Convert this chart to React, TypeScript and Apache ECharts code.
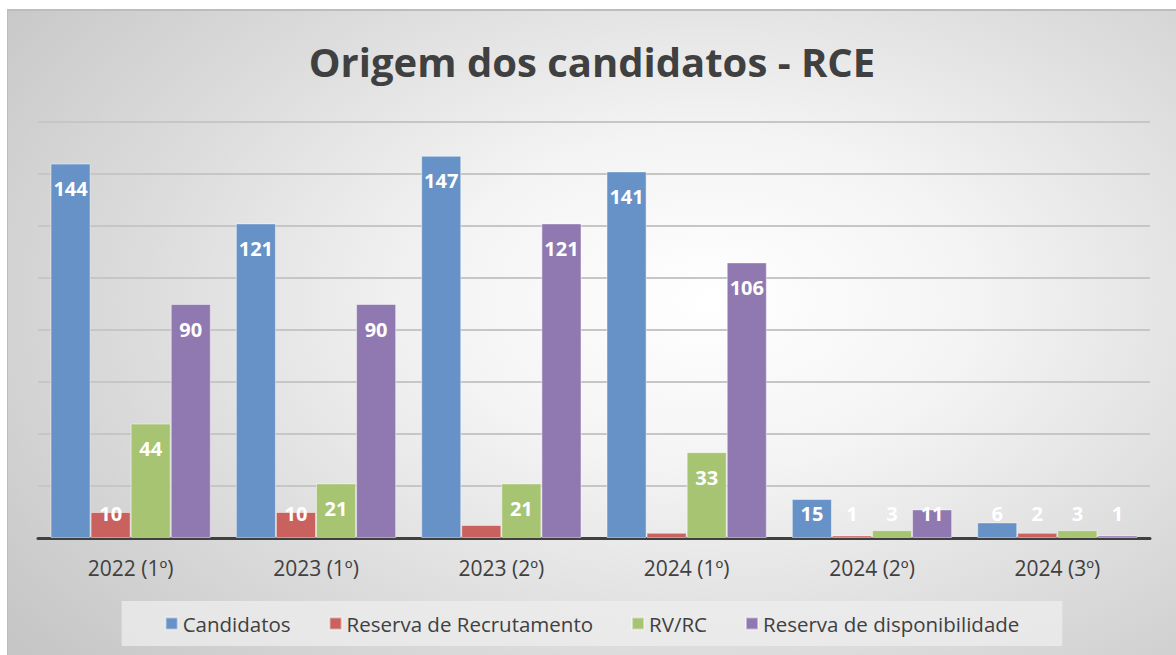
import React, { useEffect, useRef } from "react";
import * as echarts from "echarts";

const categories = ["2022 (1º)", "2023 (1º)", "2023 (2º)", "2024 (1º)", "2024 (2º)", "2024 (3º)"];
const seriesNames = ["Candidatos", "Reserva de Recrutamento", "RV/RC", "Reserva de disponibilidade"];
const candidatos = [144, 121, 147, 141, 15, 6];
const reservaRecrutamento = [10, 10, 5, 2, 1, 2];
const rvrc = [44, 21, 21, 33, 3, 3];
const reservaDisponibilidade = [90, 90, 121, 106, 11, 1];
// labels not shown in the reference (series index, category index)
const hiddenLabels: [number, number][] = [[1, 2], [1, 3]];
const colors = ["#6692c7", "#c9625e", "#a7c473", "#9079b0"];
const yMax = 160;
const yInterval = 20;

export default function App() {
  const ref = useRef<HTMLDivElement>(null);
  useEffect(() => {
    if (!ref.current) return;
    const chart = echarts.init(ref.current, null, { renderer: "svg" });
    const allValues = [candidatos, reservaRecrutamento, rvrc, reservaDisponibilidade];
    const font = "'Open Sans', 'Noto Sans', sans-serif";
    const series = allValues.map((vals, si) => ({
      name: seriesNames[si],
      type: "bar",
      barGap: "0%",
      barCategoryGap: "13.5%",
      itemStyle: { color: colors[si], borderColor: "rgba(255,255,255,0.45)", borderWidth: 1 },
      data: vals.map((v, ci) => {
        const hidden = hiddenLabels.some(([s, c]) => s === si && c === ci);
        const small = v < 21;
        return {
          value: v,
          label: {
            show: !hidden,
            position: small ? "insideBottom" : "insideTop",
            distance: small ? 15 : 15,
          },
        };
      }),
      label: {
        show: true,
        color: "#ffffff",
        fontFamily: font,
        fontWeight: "bold",
        fontSize: 20,
      },
    }));
    chart.setOption({
      animation: false,
      backgroundColor: "transparent",
      title: {
        text: "Origem dos candidatos - RCE",
        left: "center",
        top: 25,
        textStyle: { fontFamily: font, fontWeight: "bold", fontSize: 40, color: "#404040" },
      },
      color: colors,
      legend: {
        data: seriesNames,
        bottom: 9,
        left: "center",
        itemWidth: 12,
        itemHeight: 12,
        itemGap: 38,
        icon: "rect",
        padding: [12, 43],
        backgroundColor: "rgba(238,238,238,0.75)",
        textStyle: { fontFamily: font, fontSize: 20.5, color: "#404040" },
      },
      grid: { left: 30, right: 26, top: 111, bottom: 117, containLabel: false },
      xAxis: {
        type: "category",
        data: categories,
        axisLine: { show: true, lineStyle: { color: "#404040", width: 3 } },
        axisTick: { show: false },
        axisLabel: { fontFamily: font, fontSize: 21, color: "#404040", margin: 19 },
      },
      yAxis: {
        type: "value",
        min: 0,
        max: yMax,
        interval: yInterval,
        axisLabel: { show: false },
        axisLine: { show: false },
        axisTick: { show: false },
        splitLine: { lineStyle: { color: "#c6c6c6", width: 2 } },
      },
      series,
    });
    return () => chart.dispose();
  }, []);
  return (
    <div
      style={{
        position: "absolute",
        left: 7,
        top: 9,
        width: 1169,
        height: 646,
        boxSizing: "border-box",
        borderTop: "2px solid #bdbdbd",
        borderLeft: "1px solid #bdbdbd",
        background:
          "radial-gradient(ellipse 75% 85% at 60% 45%, #ffffff 0%, #f4f4f4 30%, #dcdcdc 65%, #c6c6c6 100%)",
      }}
    >
      <div ref={ref} style={{ width: "100%", height: "100%" }} />
    </div>
  );
}
